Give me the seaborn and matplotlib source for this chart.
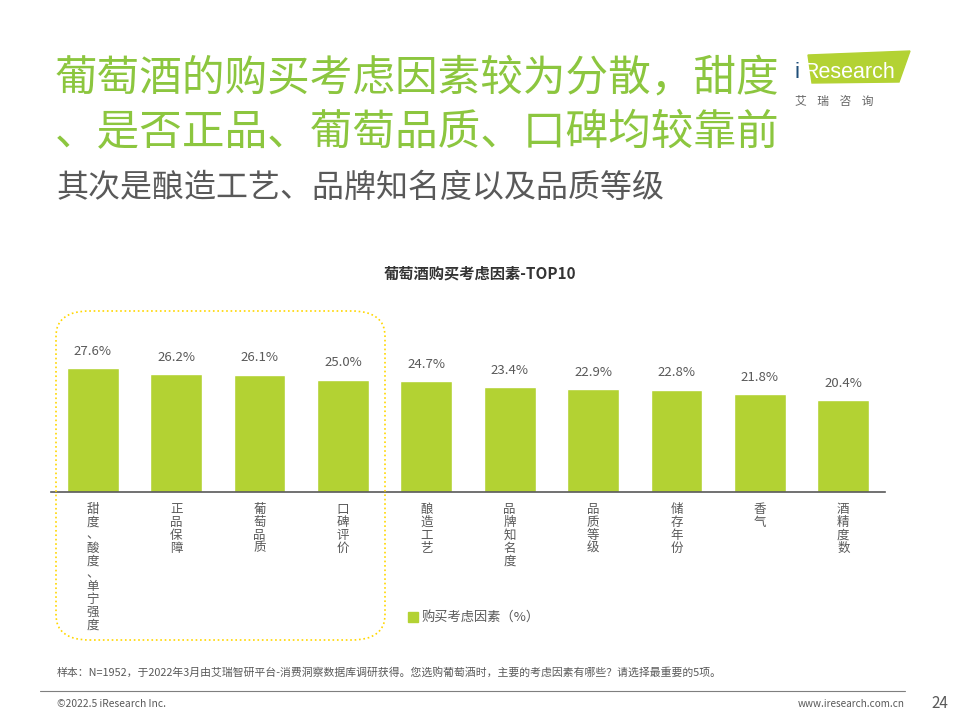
import pandas as pd
import matplotlib
matplotlib.use('Agg')
import matplotlib.pyplot as plt
import seaborn as sns
from matplotlib.patches import FancyBboxPatch, Polygon
from matplotlib.lines import Line2D

# data
factors = ['甜度、酸度、单宁强度', '正品保障', '葡萄品质', '口碑评价', '酿造工艺',
           '品牌知名度', '品质等级', '储存年份', '香气', '酒精度数']
shares = [27.6, 26.2, 26.1, 25.0, 24.7, 23.4, 22.9, 22.8, 21.8, 20.4]
series_name = '购买考虑因素（%）'

headline = ['葡萄酒的购买考虑因素较为分散，甜度', '、是否正品、葡萄品质、口碑均较靠前']
subhead = '其次是酿造工艺、品牌知名度以及品质等级'
chart_title = '葡萄酒购买考虑因素-TOP10'
note = '样本：N=1952，于2022年3月由艾瑞智研平台-消费洞察数据库调研获得。您选购葡萄酒时，主要的考虑因素有哪些？请选择最重要的5项。'

BAR_GREEN = '#B3D233'
TITLE_GREEN = '#8CC63F'
GREY = '#595959'

sns.set_style('white')
plt.rcParams['font.family'] = ['Noto Sans CJK SC', 'DejaVu Sans']

df = pd.DataFrame({'factor': factors, 'share': shares})

fig = plt.figure(figsize=(9.6, 7.2), dpi=100)
W, H = 960, 720


def fx(px):
    return px / W


def fy(py):
    return 1 - py / H


ax = fig.add_axes([fx(51), fy(492), fx(834), 192 / H])
sns.barplot(data=df, x='factor', y='share', color=BAR_GREEN, width=0.62,
            saturation=1, ax=ax)
ax.set_ylim(0, 192 / 4.49)
ax.set_xlim(-0.5, len(factors) - 0.5)
ax.set_yticks([])
ax.set_xticks(range(len(factors)))
ax.set_xticklabels(['\n'.join(f) for f in factors], fontsize=9, color=GREY,
                   va='top', linespacing=0.98)
ax.tick_params(axis='x', length=0, pad=8)
ax.set_xlabel('')
ax.set_ylabel('')
for s in ['top', 'left', 'right']:
    ax.spines[s].set_visible(False)
ax.spines['bottom'].set_color(GREY)
ax.spines['bottom'].set_linewidth(1.2)

for i, v in enumerate(shares):
    ax.text(i, v + 2.3, f'{v:.1f}%', ha='center', va='bottom', fontsize=9.5, color=GREY)

# headline texts
fig.text(fx(55), fy(79), headline[0], fontsize=30.7, color=TITLE_GREEN, va='center', ha='left')
fig.text(fx(55), fy(133), headline[1], fontsize=30.7, color=TITLE_GREEN, va='center', ha='left')
fig.text(fx(57), fy(188), subhead, fontsize=23, color=GREY, va='center', ha='left')
fig.text(fx(480), fy(273), chart_title, fontsize=11, fontweight='bold', color='#333333',
         ha='center', va='center')

# highlight box around the first four
fig.patches.append(FancyBboxPatch((fx(56), fy(640)), fx(329), (640 - 311) / H,
                                  boxstyle='round,pad=0,rounding_size=0.035',
                                  transform=fig.transFigure, fill=False,
                                  edgecolor='#FFD700', linestyle=':', linewidth=1.2))

# legend
handle = Line2D([], [], marker='s', linestyle='', color=BAR_GREEN, markersize=7)
fig.legend([handle], [series_name], loc='center left', bbox_to_anchor=(fx(402), fy(618)),
           frameon=False, fontsize=9.5, handletextpad=0.3, labelcolor=GREY,
           borderaxespad=0, handlelength=0.8)

# logo
fig.patches.append(Polygon([(fx(808), fy(55)), (fx(910), fy(51)), (fx(899), fy(82)), (fx(812), fy(83))],
                           closed=True, transform=fig.transFigure, color=BAR_GREEN))
fig.text(fx(795), fy(72), 'i', fontsize=16, color='#1F4E79', va='center', ha='left',
         family=['Liberation Sans'])
fig.text(fx(803), fy(72), 'Research', fontsize=15.5, color='white', va='center', ha='left',
         family=['Liberation Sans'])
fig.text(fx(795), fy(101), '艾    瑞    咨    询', fontsize=8.5, color='#666666', va='center', ha='left')

# footer
fig.text(fx(57), fy(672), note, fontsize=7.8, color=GREY, va='center', ha='left')
fig.add_artist(Line2D([fx(40), fx(905)], [fy(691), fy(691)], transform=fig.transFigure,
                      color='#7F7F7F', linewidth=0.8))
fig.text(fx(57), fy(704), '©2022.5 iResearch Inc.', fontsize=7.4, color=GREY, va='center', ha='left')
fig.text(fx(905), fy(704), 'www.iresearch.com.cn', fontsize=7.2, color=GREY, va='center', ha='right')
fig.text(fx(940), fy(703), '24', fontsize=11, color=GREY, va='center', ha='center')

fig.savefig('out.png', dpi=100)
